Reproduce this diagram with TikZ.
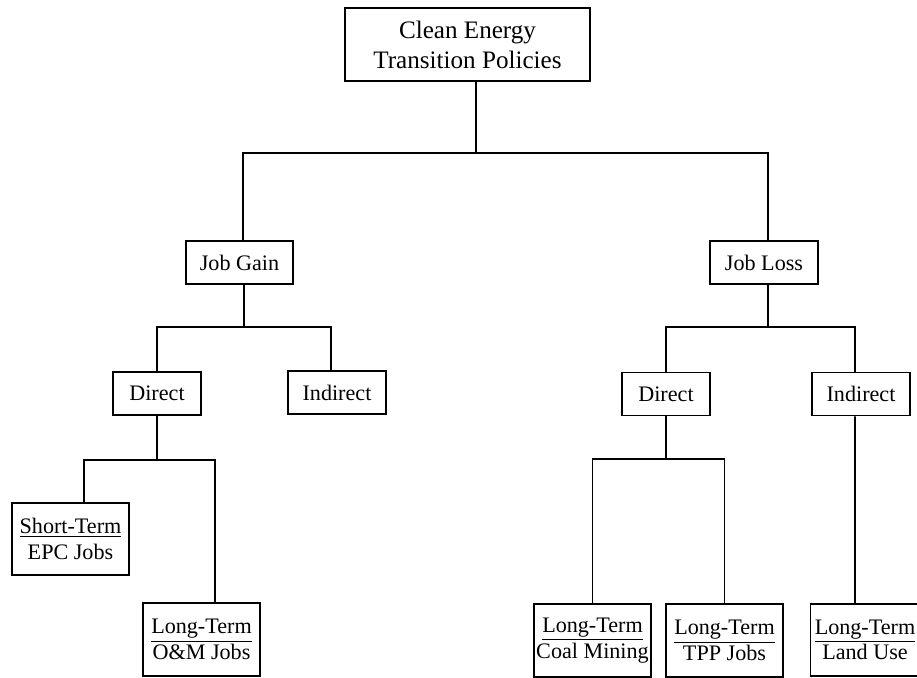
\documentclass[tikz,border=0pt]{standalone}
\usepackage{fontspec}
\setmainfont{Liberation Serif}

\begin{document}
\begin{tikzpicture}[
  x=0.02cm, y=-0.02cm,
  box/.style={draw, line width=0.9pt, inner sep=0pt, align=center,
              minimum height=0.86cm, font=\fontsize{12.6}{14.6}\selectfont},
  termbox/.style={box, minimum width=2.34cm, minimum height=1.45cm},
  link/.style={line width=0.9pt}
]
  \useasboundingbox (0,0) rectangle (917,677);
  \clip (0,0) rectangle (917,677);

  \node[box, minimum width=4.9cm, minimum height=1.46cm,
        font=\fontsize{14.3}{17}\selectfont] (top) at (467.5, 44.5) {Clean Energy\\Transition Policies};

  \node[box, minimum width=2.14cm] (jgain) at (239.5, 262.5) {Job Gain};
  \node[box, minimum width=2.16cm] (jloss) at (764, 262.5)   {Job Loss};

  \node[box, minimum width=1.76cm] (gdir) at (157, 393.5) {Direct};
  \node[box, minimum width=1.96cm] (gind) at (337, 392.5) {Indirect};
  \node[box, minimum width=1.76cm] (ldir) at (666, 394)   {Direct};
  \node[box, minimum width=1.96cm] (lind) at (861, 394)   {Indirect};

  \node[termbox] (gshort) at (70.5, 539)  {\underline{Short-Term}\\EPC Jobs};
  \node[termbox] (gom)    at (201.5, 639.5) {\underline{Long-Term}\\O\&M Jobs};
  \node[termbox] (lcoal)  at (592.5, 640.5) {\underline{Long-Term}\\Coal Mining};
  \node[termbox] (ltpp)   at (724.5, 640.5) {\underline{Long-Term}\\TPP Jobs};
  \node[termbox, minimum width=2.18cm] (lland) at (865, 640) {\underline{Long-Term}\\Land Use};

  \coordinate (b0) at (476, 153);
  \coordinate (b1) at (244, 327);
  \coordinate (b2) at (768, 327);
  \coordinate (b3) at (157, 460);
  \coordinate (b4) at (666, 459);

  \draw[link] ([xshift=0.17cm]top.south) -- (b0);
  \draw[link] ([xshift=0.07cm]jgain.north) |- (b0) -| ([xshift=0.08cm]jloss.north);

  \draw[link] ([xshift=0.09cm]jgain.south) -- (b1);
  \draw[link] (gdir.north) |- (b1) -| ([xshift=-0.12cm]gind.north);
  \draw[link] ([xshift=0.08cm]jloss.south) -- (b2);
  \draw[link] (ldir.north) |- (b2) -| ([xshift=-0.12cm]lind.north);

  \draw[link] (gdir.south) -- (b3);
  \draw[link] ([xshift=0.27cm]gshort.north) |- (b3) -| ([xshift=0.27cm]gom.north);
  \draw[link] (ldir.south) -- (b4);
  \draw[link] (lcoal.north) |- (b4) -| (ltpp.north);
  \draw[link] ([xshift=-0.12cm]lind.south) -- ([xshift=-0.2cm]lland.north);
\end{tikzpicture}
\end{document}
